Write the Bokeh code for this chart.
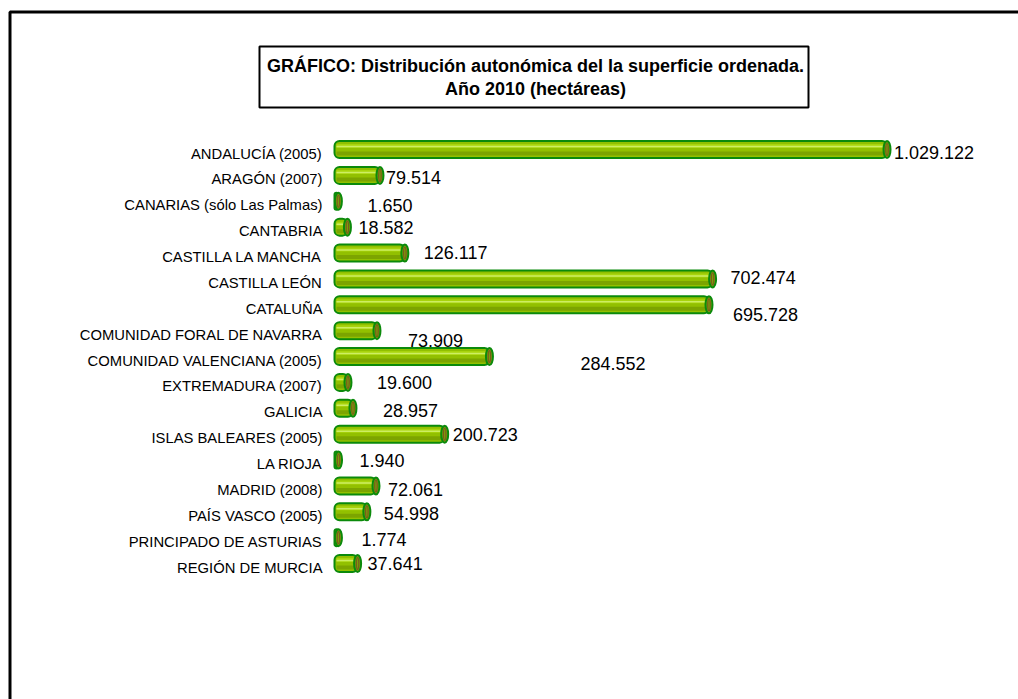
from bokeh.plotting import figure
from bokeh.models import ColumnDataSource, Range1d, BoxAnnotation
from bokeh.core.properties import value
from bokeh.embed import file_html
from bokeh.resources import INLINE

# ---------------- data ----------------
categories = [
    "ANDALUCÍA (2005)", "ARAGÓN (2007)", "CANARIAS (sólo Las Palmas)", "CANTABRIA",
    "CASTILLA LA MANCHA", "CASTILLA LEÓN", "CATALUÑA", "COMUNIDAD FORAL DE NAVARRA",
    "COMUNIDAD VALENCIANA (2005)", "EXTREMADURA (2007)", "GALICIA",
    "ISLAS BALEARES (2005)", "LA RIOJA", "MADRID (2008)", "PAÍS VASCO (2005)",
    "PRINCIPADO DE ASTURIAS", "REGIÓN DE MURCIA",
]
hectareas = [1029122, 79514, 1650, 18582, 126117, 702474, 695728, 73909, 284552,
             19600, 28957, 200723, 1940, 72061, 54998, 1774, 37641]
value_labels = ["1.029.122", "79.514", "1.650", "18.582", "126.117", "702.474", "695.728",
                "73.909", "284.552", "19.600", "28.957", "200.723", "1.940", "72.061",
                "54.998", "1.774", "37.641"]
title_lines = ["GRÁFICO: Distribución autonómica del la superficie ordenada.",
               "Año 2010 (hectáreas)"]

# label displacement (screen px) as placed in the original chart
label_dx = [7, 6, 29, 11, 19, 18, 24, 31, 91, 29, 30, 8, 21, 12, 17, 23, 10]
label_dy = [3, 2, 4, 0, -1, -1, 10, 10, 7, 0, 2, 0, 0, 4, 2, 2, 0]

# ---------------- layout ----------------
W, H = 1018, 699
ZERO_PX = 337          # screen x of value 0
UPP = 1872.8           # hectares per pixel
ROW_TOP_PX = 149       # screen y of first row centre
ROW_PX = 25.875        # pixels per row

x0 = -ZERO_PX * UPP
x1 = (W - ZERO_PX) * UPP
y_top = -ROW_TOP_PX / ROW_PX
y_bot = y_top + H / ROW_PX


def fx(px):
    return x0 + px * UPP


def fy(py):
    return y_top + py / ROW_PX


rows = list(range(len(categories)))
src = ColumnDataSource(dict(
    y=rows, v=hectareas, cat=categories, lab=value_labels,
    dx=label_dx, dy=label_dy,
    y_hi=[r - 3.5 / ROW_PX for r in rows],
    y_hl=[r - 3.0 / ROW_PX for r in rows],
    y_lo=[r + 4.0 / ROW_PX for r in rows],
))

p = figure(width=W, height=H, output_backend="svg", toolbar_location=None,
           x_range=Range1d(x0, x1), y_range=Range1d(y_bot, y_top),
           x_axis_location=None, y_axis_location=None, min_border=0,
           background_fill_color="white", border_fill_color="white")
p.outline_line_color = None
p.xgrid.visible = False
p.ygrid.visible = False

# outer frame (cut at right/bottom like the original)
p.add_layout(BoxAnnotation(left=fx(9.5), top=fy(11.5), right=fx(1040), bottom=fy(730),
                           fill_alpha=0.0, level="underlay",
                           line_color="black", line_alpha=1.0, line_width=3))

# title box
p.add_layout(BoxAnnotation(left=fx(259), right=fx(808), top=fy(46), bottom=fy(107),
                           fill_color="white", fill_alpha=1.0, level="underlay",
                           line_color="black", line_alpha=1.0, line_width=2))
p.text(x=[fx(535), fx(535)], y=[fy(65), fy(88)], text=title_lines,
       text_font=value("Liberation Sans"), text_font_size=value("18px"),
       text_font_style="bold", text_align="center", text_baseline="middle",
       text_color="black")

# cylinder bars
left_edge = -3 * UPP
p.hbar(y="y", left=left_edge, right="v", height=17 / ROW_PX, source=src,
       fill_color="#92c000", line_color="#0b8a0b", line_width=2, border_radius=5)
p.hbar(y="y_hi", left=-1 * UPP, right="v", height=4 / ROW_PX, source=src,
       fill_color="#a8d40c", line_color=None)
p.hbar(y="y_hl", left=-1 * UPP, right="v", height=1.5 / ROW_PX, source=src,
       fill_color="#cdee62", line_color=None)
p.hbar(y="y_lo", left=-1 * UPP, right="v", height=4 / ROW_PX, source=src,
       fill_color="#7ca400", line_color=None)
p.ellipse(x="v", y="y", width=7, height=17, width_units="screen", height_units="screen",
          source=src, fill_color="#7d9c08", line_color="#0b8a0b", line_width=2)
p.ellipse(x="v", y="y", width=2.5, height=12, width_units="screen", height_units="screen",
          source=src, fill_color=None, line_color="#7a5a1e", line_width=1.2)

# category labels
p.text(x=0, y="y", text="cat", source=src, x_offset=-15, y_offset=4,
       text_font=value("Liberation Sans"), text_font_size=value("14.8px"),
       text_align="right", text_baseline="middle", text_color="black")

# value labels
p.text(x="v", y="y", text="lab", source=src, x_offset="dx", y_offset="dy",
       text_font=value("Liberation Sans"), text_font_size=value("18px"),
       text_align="left", text_baseline="middle", text_color="black")

open("out.html", "w").write(file_html(p, INLINE))
